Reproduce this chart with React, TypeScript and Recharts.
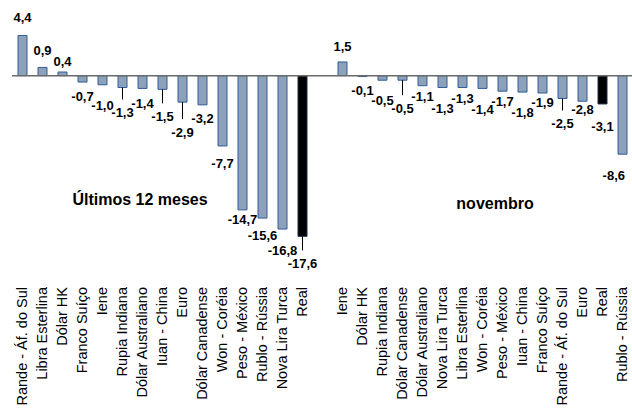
import React from "react";
import { BarChart, Bar, XAxis, YAxis, Cell, LabelList, ReferenceLine } from "recharts";

// ---- data ----
const currencies12m = [
  "Rande - Áf. do Sul", "Libra Esterlina", "Dólar HK", "Franco Suíço", "Iene",
  "Rupia Indiana", "Dólar Australiano", "Iuan - China", "Euro", "Dólar Canadense",
  "Won - Coréia", "Peso - México", "Rublo - Rússia", "Nova Lira Turca", "Real",
];
const values12m = [4.4, 0.9, 0.4, -0.7, -1.0, -1.3, -1.4, -1.5, -2.9, -3.2, -7.7, -14.7, -15.6, -16.8, -17.6];

const currenciesNov = [
  "Iene", "Dólar HK", "Rupia Indiana", "Dólar Canadense", "Dólar Australiano",
  "Nova Lira Turca", "Libra Esterlina", "Won - Coréia", "Peso - México", "Iuan - China",
  "Franco Suíço", "Rande - Áf. do Sul", "Euro", "Real", "Rublo - Rússia",
];
const valuesNov = [1.5, -0.1, -0.5, -0.5, -1.1, -1.3, -1.3, -1.4, -1.7, -1.8, -1.9, -2.5, -2.8, -3.1, -8.6];

const groupTitles = ["Últimos 12 meses", "novembro"];
const highlight = "Real";

// ---- label layout (styling, not data) ----
const labelGap12m = [18, 17, 11, 14, 21, 25, 15, 27, 30, 14, 17, 10, 17, 21, 27];
const labelGapNov = [16, 14, 20, 28, 11, 21, 11, 21, 10, 20, 9, 25, 8, 22, 21];
const LEADER_MIN = 24;
const CHART_W = 632;
const CHART_H = 411;

type Row = { key: string; name: string; value: number | null; gap: number };

const rows: Row[] = [
  ...currencies12m.map((name, i) => ({ key: "a" + i, name, value: values12m[i], gap: labelGap12m[i] })),
  { key: "gap", name: "", value: null, gap: 0 },
  ...currenciesNov.map((name, i) => ({ key: "b" + i, name, value: valuesNov[i], gap: labelGapNov[i] })),
];

const FONT = "'Liberation Sans', Arial, Helvetica, sans-serif";
const FILL = "#8DA1B9";
const STROKE = "#2E5D9C";

const fmt = (v: number) => v.toFixed(1).replace(".", ",");

const Tick = (props: any) => {
  const { x, y, payload } = props;
  const row = rows.find((r) => r.key === payload.value);
  const name = row ? row.name : "";
  const ay = y + 47;
  return (
    <text
      x={x}
      y={ay}
      transform={`rotate(-90 ${x} ${ay})`}
      textAnchor="end"
      dy="0.35em"
      fontFamily={FONT}
      fontSize={14.5}
      fill="#000"
    >
      {name}
    </text>
  );
};

const ValueLabel = (props: any) => {
  const { x, y, width, height, value } = props;
  const row = rows.find((r) => r.key === value);
  if (!row || row.value == null) return null;
  const v = row.value;
  const top = Math.min(y, y + height);
  const bottom = Math.max(y, y + height);
  const cx = x + width / 2;
  const end = v >= 0 ? top : bottom;
  const ly = v >= 0 ? end - row.gap : end + row.gap;
  const leader = row.gap >= LEADER_MIN && v < 0;
  const nearEdge = cx + 14 > CHART_W;
  return (
    <g>
      {leader && <line x1={cx} x2={cx} y1={end} y2={ly - 13} stroke="#000" strokeWidth={1} />}
      <text
        x={nearEdge ? CHART_W - 7 : cx}
        y={ly}
        dy="0.35em"
        textAnchor={nearEdge ? "end" : "middle"}
        fontFamily={FONT}
        fontSize={13}
        fontWeight="bold"
        fill="#000"
      >
        {fmt(v)}
      </text>
    </g>
  );
};

export default function App() {
  return (
    <div style={{ position: "absolute", left: 0, top: 0, width: CHART_W, height: CHART_H, background: "#fff" }}>
      <BarChart
        width={CHART_W}
        height={CHART_H}
        data={rows}
        margin={{ top: 30, right: 0, left: 12, bottom: 0 }}
        barSize={9}
      >
        <XAxis
          dataKey="key"
          axisLine={false}
          tickLine={false}
          tickSize={0}
          tickMargin={0}
          interval={0}
          height={171}
          tick={<Tick />}
        />
        <YAxis hide domain={[-18, 5]} allowDataOverflow />
        <Bar dataKey="value" isAnimationActive={false} stroke={STROKE} strokeWidth={1}>
          {rows.map((r) => (
            <Cell key={r.key} fill={r.name === highlight ? "#000" : FILL} stroke={r.name === highlight ? "#1c2f4f" : STROKE} />
          ))}
          <LabelList dataKey="key" content={<ValueLabel />} />
        </Bar>
        <ReferenceLine y={0} stroke="#6b6b6b" strokeWidth={1.5} />
      </BarChart>
      <svg width={CHART_W} height={CHART_H} style={{ position: "absolute", left: 0, top: 0, pointerEvents: "none" }}>
        <text x={140} y={205} textAnchor="middle" fontFamily={FONT} fontSize={16} fontWeight="bold" fill="#000">
          {groupTitles[0]}
        </text>
        <text x={495} y={209} textAnchor="middle" fontFamily={FONT} fontSize={16} fontWeight="bold" fill="#000">
          {groupTitles[1]}
        </text>
      </svg>
    </div>
  );
}
